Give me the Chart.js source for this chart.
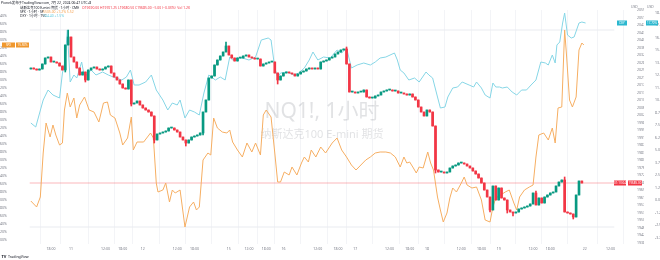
<!DOCTYPE html>
<html>
<head>
<meta charset="utf-8">
<script src="https://cdn.jsdelivr.net/npm/chart.js@4.4.1/dist/chart.umd.min.js"></script>
<style>
  html, body { margin: 0; padding: 0; background: #fff; }
</style>
</head>
<body>
<canvas id="chart" width="660" height="260"></canvas>
<script>
// NQ1! hourly closes, one per bar
const closes = [
  20260,20255,20250,20255,20280,20310,20315,20290,20290,20285,
  20270,20250,20375,20415,20315,20290,20260,20225,20240,20200,
  20250,20260,20265,20255,20250,20255,20265,20270,20235,20215,
  20200,20180,20160,20155,20200,20080,20085,20095,20075,20060,
  20050,20040,20020,19900,19930,19935,19940,19945,19960,19960,
  19950,19940,19915,19900,19885,19900,19915,19920,19925,19935,
  20040,20100,20210,20220,20275,20300,20320,20340,20370,20325,
  20310,20295,20310,20310,20320,20325,20315,20310,20305,20305,
  20270,20280,20285,20290,20290,20235,20200,20220,20235,20240,
  20235,20230,20220,20230,20240,20245,20255,20260,20255,20260,
  20255,20290,20295,20300,20310,20315,20330,20340,20350,20355,
  20280,20140,20140,20135,20140,20140,20150,20115,20110,20110,
  20120,20125,20140,20145,20150,20150,20145,20145,20135,20135,
  20130,20125,20130,20115,20100,20065,20040,20020,20050,20040,
  19970,19750,19740,19740,19735,19740,19760,19770,19775,19785,
  19785,19780,19770,19760,19745,19730,19710,19685,19650,19615,
  19550,19670,19600,19660,19610,19600,19550,19540,19535,19540,
  19555,19560,19565,19570,19580,19635,19575,19610,19585,19615,
  19625,19635,19640,19670,19690,19700,19540,19535,19530,19515,
  19625,19695,19685
];
const firstOpen = 20255;
// visible wicks: [bar, price]
const wickHighs = [[13,20450],[68,20390],[110,20365],[176,19645],[186,19715]];
const wickLows = [[12,20240],[19,20190],[35,20070],[43,19885],[54,19870],[60,19925],
                  [86,20180],[141,19735],[160,19540],[166,19535],[168,19520],[189,19505]];

// compare series: [bar, value]
const orangePts = [[0,-0.1],[2,-0.7],[3.3,0.3],[4.3,4.7],[5.3,7.7],[6.7,6.3],[7.7,7.5],[8.7,6.5],[10,5.5],[11,5.7],
  [11.7,9],[12.7,10.7],[13.7,9.3],[15,10.2],[16,8.2],[17,9.5],[18.7,10.3],[20.3,9],[22,8.8],[23.7,7.8],
  [25.3,9.7],[26.7,9.8],[27.7,8.5],[29.3,8.2],[31,6.7],[32,5.5],[33.7,6.2],[35,8.3],[35.7,5],[37,5.8],
  [39.3,5.8],[41.7,6.7],[42.7,6.2],[43.7,1.7],[44.3,0.8],[46,1],[47,1.7],[48.3,-0.2],[49.3,1],[50.3,0.7],
  [52,1],[53.7,-2.7],[55.3,-0.7],[56.7,-0.2],[57.7,-1],[58.7,-0.7],[60,4],[61.7,4.7],[62.7,4.5],[63.7,8.2],
  [65,7.2],[66.7,6.8],[68.3,6.7],[69.3,7],[70.3,5.8],[72,5],[73.7,4.3],[75.3,5.7],[77,4.8],[78.3,5.7],
  [80,4.5],[81,8.5],[82,9],[83.7,8.3],[85,4.7],[86,1.8],[87,1.8],[88.3,2.8],[90,2.5],[91,3.3],
  [92.7,2.5],[94.3,3.7],[95.3,4.3],[96.7,3.8],[97.7,5],[99.3,4.3],[101,5.3],[102.7,4.7],[105,5.7],[106.7,6.2],
  [108.3,5],[110,4.3],[111.7,3.5],[113.3,3],[115,3.5],[116.7,4],[118.3,4.3],[120,4.7],[121.7,4.8],[123.7,4.8],
  [125.3,4.7],[127,4.3],[128.7,3.3],[130,4.3],[131,3.7],[132,3.8],[133.3,3.2],[134.3,2.7],[135.3,3.3],[136.7,3.2],
  [138.3,4.8],[139.3,3.7],[140.3,3],[141.7,0.3],[142.7,-1],[143.7,-2.2],[145,-1.3],[146,0.2],[147,1.2],[148.3,0.8],
  [150,1.7],[151,2.3],[152,1.5],[153.7,1.2],[155.3,1.3],[157,0],[158.3,-2],[160,-2.2],[161,-0.7],[162,0.2],
  [163.7,0.5],[165.3,0.8],[166.7,1],[168.3,-0.3],[169.3,-1],[170.3,0.3],[172,1],[173.7,1.3],[175,1.5],[176,4.3],
  [177,6.5],[178.7,6.7],[180.3,6],[181.7,7.2],[182.7,5.7],[183.7,9.2],[185,9.3],[186,17],[186.7,14.3],[187.7,10],
  [188.7,9.3],[190,10.3],[191,15],[192,15.7],[192.7,15.5]];
const cyanPts = [[0,7.7],[1.7,7.3],[4.3,10],[6,11],[7.7,10.5],[10,10.2],[11,12.7],[12,14],[12.7,17],[13.7,11.8],
  [15,12.5],[16,12.2],[17.7,13.8],[18.7,12.3],[21,13],[22.7,12.5],[25,12.8],[27,12.5],[28.7,12.3],[31.7,12],
  [33.3,12.3],[34.7,13],[36,11.5],[37.7,11.5],[40,11.8],[42,12.5],[43.7,11],[46,10],[47.7,9],[49.3,9.7],
  [51,9.5],[52,10],[53.7,8.2],[55.3,9],[57,8.8],[58.7,8.5],[60.3,10.7],[62,12.5],[64.3,12],[66,12.3],
  [67.7,12],[69.3,14.3],[70.3,14],[72,14.2],[73.7,14.2],[76,14],[78.3,14.3],[80.3,16],[82.7,16.2],[83.7,16],
  [85,13.2],[86,12.3],[87,12.7],[89.3,12.8],[91.7,12.5],[93.3,12.7],[95.3,13.2],[97,14],[98.3,14.8],[100,14],
  [102,14.3],[104.3,14.2],[106.7,15],[108.3,14.7],[110,15.2],[111.7,13.2],[113.7,13.5],[116,13.7],[118.3,13.5],[120,13.8],
  [121.7,14.2],[123.7,14.3],[126.7,14.7],[127.7,14],[128.7,13],[130,12.7],[131.7,12],[133.7,12.2],[135.3,11.8],[137.7,12.8],
  [138.7,12.5],[140,12.2],[141.7,10.3],[142.7,9.2],[144.3,9.3],[145.3,10.3],[147,11.2],[148.7,11.3],[150.3,11.8],[152.7,11.5],
  [154.3,11.3],[155.3,11.8],[157,11.2],[158.3,10.5],[160,10.2],[161,11.7],[162,11.3],[163.3,11.3],[164.3,11.2],[166,11.3],
  [167.7,10.8],[169.3,10.5],[171,11],[172.7,11],[174.3,11.5],[176,12],[177.7,13.8],[179.3,13.7],[180.3,13.5],[181.7,14.5],
  [182.7,13.7],[183.3,15.5],[184.3,15.8],[185.3,17.7],[186,18.7],[187,16.5],[188.3,16.2],[189.3,16.3],[191,17.7],[192,17.8],
  [193.3,17.7]];

// time axis labels
const tickBars = [7,14,26,32,39,51,57,69,76,82,88,100,107,113,125,132,138,150,157,163,175,181,193,202];
const tickNames = ['18:00','11','12:00','18:00','12','12:00','18:00','15','12:00','18:00','16','12:00',
                   '18:00','17','12:00','18:00','18','12:00','18:00','19','12:00','18:00','22','12:00'];

const xMin = -0.4, xMax = 203.3;
const priceMin = 19380, priceMax = 20550, priceStep = 37.5;
const cmpMin = -4.4, cmpMax = 19;

const upColor = '#089981';
const downColor = '#f23645';
const axisFont = { family: '"Noto Sans", sans-serif', size: 3.5 };
const axisColor = '#787b86';

const opens = closes.map((c, i) => i === 0 ? firstOpen : closes[i - 1]);
const highs = closes.map((c, i) => Math.max(c, opens[i]));
const lows = closes.map((c, i) => Math.min(c, opens[i]));
wickHighs.forEach(([i, v]) => highs[i] = Math.max(highs[i], v));
wickLows.forEach(([i, v]) => lows[i] = Math.min(lows[i], v));
const candleColors = closes.map((c, i) => c >= opens[i] ? upColor : downColor);

const lastClose = closes[closes.length - 1];
const orangeVals = orangePts.map(p => p[1]);

function stepTicks(scale, step) {
  const ticks = [];
  for (let v = Math.ceil(scale.min / step) * step; v <= scale.max; v += step) ticks.push({ value: v });
  scale.ticks = ticks;
}

function box(ctx, x, y, w, h, color, text) {
  ctx.fillStyle = color;
  ctx.fillRect(x, y - h / 2, w, h);
  ctx.fillStyle = '#fff';
  ctx.font = '3px "Noto Sans", sans-serif';
  ctx.textAlign = 'center';
  ctx.textBaseline = 'middle';
  ctx.fillText(text, x + w / 2, y + 0.3);
}

const decoPlugin = {
  id: 'deco',
  beforeDatasetsDraw(chart) {
    const ctx = chart.ctx;
    const a = chart.chartArea;
    const cx = (a.left + a.right) / 2 + 0;
    ctx.save();
    ctx.fillStyle = 'rgba(120,123,134,0.22)';
    ctx.textAlign = 'center';
    ctx.textBaseline = 'middle';
    ctx.font = '21px "Noto Sans", "Noto Sans CJK SC", sans-serif';
    ctx.fillText('NQ1!, 1小时', cx, 112);
    ctx.font = '11px "Noto Sans", "Noto Sans CJK SC", sans-serif';
    ctx.fillText('纳斯达克100 E-mini 期货', cx, 135);
    ctx.restore();
  },
  afterDraw(chart) {
    const ctx = chart.ctx;
    const a = chart.chartArea;
    const s = chart.scales;
    ctx.save();
    ctx.textBaseline = 'middle';
    ctx.textAlign = 'left';
    const f = size => size + 'px "Noto Sans", "Noto Sans CJK SC", sans-serif';

    // header
    ctx.font = f(3.4);
    ctx.fillStyle = '#131722';
    ctx.fillText('Pionek发布于TradingView.com, 7月 22, 2024 06:47 UTC+8', 1, 3);
    ctx.fillText('纳斯达克100 E-mini 期货 · 1小时 · CME', 20, 8);
    ctx.fillStyle = downColor;
    ctx.fillText('O19690.00 H19701.25 L19680.50 C19685.00 −5.00 (−0.03%)  Vol 1.2K', 82, 8);
    ctx.fillStyle = '#131722';
    ctx.fillText('SPX · 1小时 · SP', 20, 12.5);
    ctx.fillStyle = '#f5a04d';
    ctx.fillText('5505.00 +1.2% 5.52', 43, 12.5);
    ctx.fillStyle = '#131722';
    ctx.fillText('DXY · 1小时 · TVC', 20, 16.5);
    ctx.fillStyle = '#5fc8dc';
    ctx.fillText('104.40 +1.5%', 43, 16.5);

    // axis currency
    ctx.fillStyle = axisColor;
    ctx.fillText('USD', s.y.left + 4, 7);
    ctx.fillText('USD', s.yC.left + 3, 7);

    // last value labels
    const py = s.y.getPixelForValue(lastClose);
    box(ctx, a.right - 13, py, 12, 5, downColor, '01:13:04');
    box(ctx, a.right + 1, py, 14, 5, downColor, lastClose.toFixed(2));
    const cy = s.yC.getPixelForValue(cyanPts[cyanPts.length - 1][1]);
    box(ctx, a.right - 10, cy, 10, 5, '#2bb7cf', 'DXY');
    box(ctx, s.yC.left + 2, cy, 12, 5, '#2bb7cf', '17.70%');
    const oy = s.yL.getPixelForValue(orangePts[orangePts.length - 1][1]);
    box(ctx, 2, oy, 13, 5, '#f0982e', 'SPX');
    box(ctx, 16, oy, 13, 5, '#f0982e', '15.50%');

    // logo
    ctx.fillStyle = '#131722';
    ctx.font = 'bold 4px "Noto Sans", sans-serif';
    ctx.textAlign = 'left';
    ctx.fillText('TV', 1.5, 257);
    ctx.font = f(3.6);
    ctx.fillText('TradingView', 8, 257);
    ctx.restore();
  }
};

const candleBodies = closes.map((c, i) => ({ x: i, y: [opens[i], c] }));
const candleWicks = closes.map((c, i) => ({ x: i, y: [lows[i], highs[i]] }));

new Chart(document.getElementById('chart'), {
  type: 'bar',
  data: {
    datasets: [
      {
        label: 'bodies', data: candleBodies, yAxisID: 'y',
        backgroundColor: candleColors, barThickness: 2, grouped: false, minBarLength: 1, order: 0
      },
      {
        label: 'wicks', data: candleWicks, yAxisID: 'y',
        backgroundColor: candleColors, barThickness: 1, grouped: false, order: 1
      },
      {
        type: 'line', label: 'cyan', yAxisID: 'yC', order: 2,
        data: cyanPts.map(([t, v]) => ({ x: t, y: v })),
        borderColor: '#86d6e6', borderWidth: 1, pointRadius: 0, tension: 0
      },
      {
        type: 'line', label: 'orange', yAxisID: 'yL', order: 2,
        data: orangePts.map(([t, v]) => ({ x: t, y: v })),
        borderColor: '#f6ae62', borderWidth: 1, pointRadius: 0, tension: 0
      },
      {
        type: 'line', label: 'last price', yAxisID: 'y', order: 3,
        data: [{ x: xMin, y: lastClose }, { x: xMax, y: lastClose }],
        borderColor: 'rgba(242,54,69,0.18)', borderWidth: 2, pointRadius: 0
      },
      {
        type: 'line', label: 'orange high', yAxisID: 'yL', order: 4,
        data: [{ x: xMin, y: Math.max(...orangeVals) }, { x: xMax, y: Math.max(...orangeVals) }],
        borderColor: '#e9ebf0', borderWidth: 1, pointRadius: 0
      },
      {
        type: 'line', label: 'orange low', yAxisID: 'yL', order: 4,
        data: [{ x: xMin, y: Math.min(...orangeVals) }, { x: xMax, y: Math.min(...orangeVals) }],
        borderColor: '#e9ebf0', borderWidth: 1, pointRadius: 0
      }
    ]
  },
  options: {
    responsive: false,
    animation: false,
    devicePixelRatio: 1,
    layout: { padding: { top: 10, left: 0, right: 0, bottom: 0 } },
    plugins: { legend: { display: false }, tooltip: { enabled: false } },
    scales: {
      x: {
        type: 'linear', min: xMin, max: xMax,
        grid: { color: '#f3f4f7', drawTicks: false },
        border: { display: false },
        afterBuildTicks: scale => { scale.ticks = tickBars.map(v => ({ value: v })); },
        afterFit: scale => { scale.height = 16; },
        ticks: {
          autoSkip: false, maxRotation: 0, padding: 3,
          font: axisFont, color: axisColor,
          callback: (value, index) => tickNames[index]
        }
      },
      y: {
        position: 'right', weight: 0, min: priceMin, max: priceMax,
        grid: { display: false }, border: { display: false },
        afterBuildTicks: scale => stepTicks(scale, priceStep),
        afterFit: scale => { scale.width = 17; },
        ticks: { autoSkip: false, padding: 2, font: axisFont, color: axisColor, callback: v => v.toFixed(2) }
      },
      yC: {
        position: 'right', weight: 1, min: cmpMin, max: cmpMax,
        grid: { display: false }, border: { display: false },
        afterBuildTicks: scale => stepTicks(scale, 1.25),
        afterFit: scale => { scale.width = 16; },
        ticks: { autoSkip: false, padding: 3, font: axisFont, color: axisColor, callback: v => v.toFixed(2) + '%' }
      },
      yL: {
        position: 'left', min: cmpMin, max: cmpMax,
        grid: { display: false }, border: { display: false },
        afterBuildTicks: scale => stepTicks(scale, 0.8),
        afterFit: scale => { scale.width = 17; },
        ticks: { autoSkip: false, padding: 2, font: axisFont, color: axisColor, callback: v => v.toFixed(2) + '%' }
      }
    }
  },
  plugins: [decoPlugin]
});
</script>
</body>
</html>
